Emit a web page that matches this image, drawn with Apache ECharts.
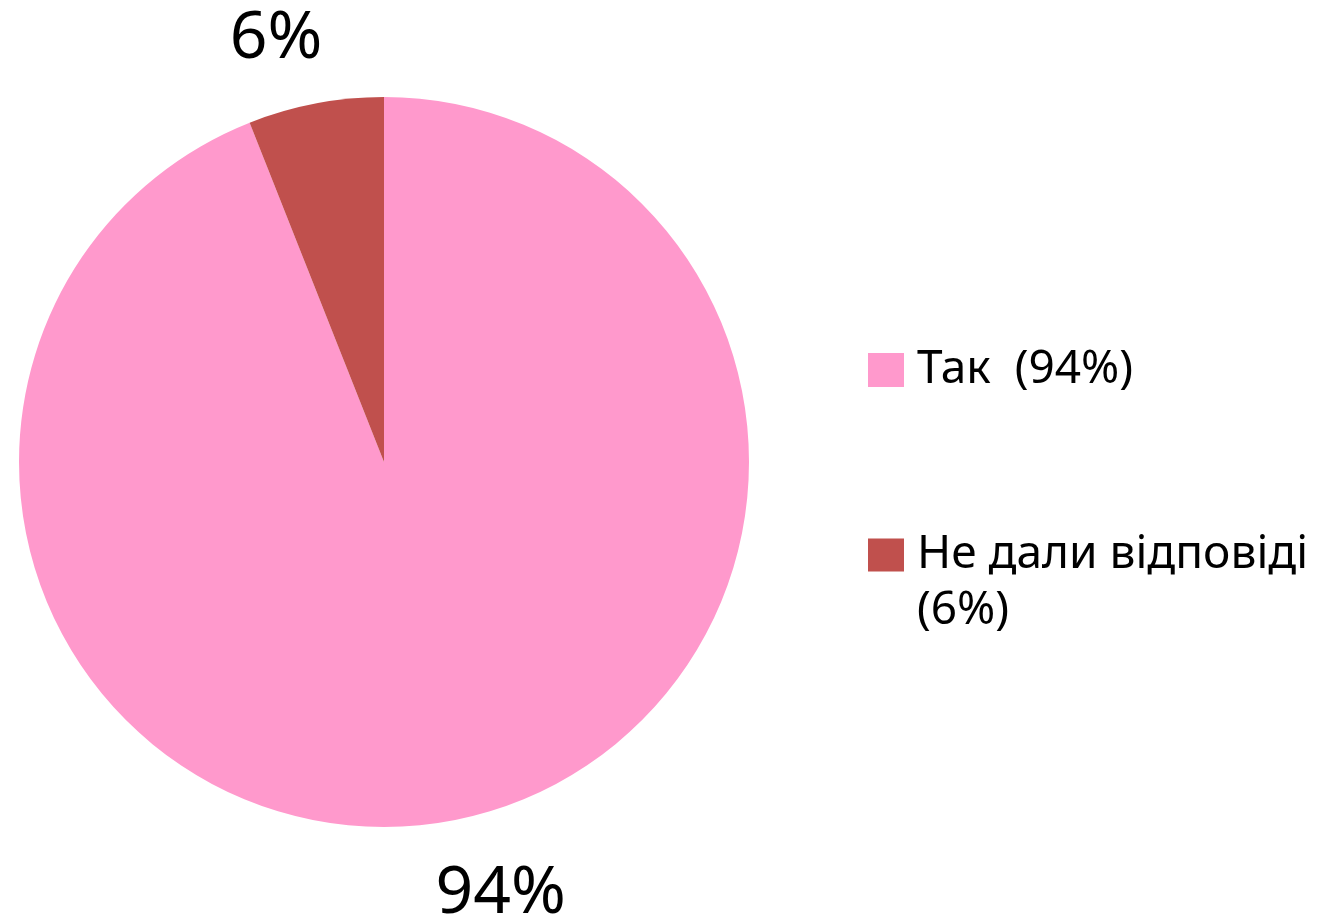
<!DOCTYPE html>
<html>
<head>
<meta charset="utf-8">
<script src="https://cdn.jsdelivr.net/npm/echarts@6/dist/echarts.min.js"></script>
<style>
  html, body { margin: 0; padding: 0; background: #fff; }
  #chart { width: 1320px; height: 918px; }
</style>
</head>
<body>
<div id="chart"></div>
<script>
// data
const names = ['Так', 'Не дали відповіді'];
const values = [94, 6];
const colors = ['#FF99CC', '#C0504D'];

const font = 'Noto Sans';

function legendText(name) {
  const i = names.indexOf(name);
  // second entry wraps; blank first line keeps the square level with the first text line
  if (i === 1) return '\n' + name + '\n(' + values[i] + '%)';
  return name + '  (' + values[i] + '%)';
}

const legendStyle = { fontFamily: font, fontSize: 46, lineHeight: 56, color: '#000', padding: [0, 0, 0, 8] };

const chart = echarts.init(document.getElementById('chart'));

chart.setOption({
  animation: false,
  color: colors,
  legend: [
    {
      orient: 'vertical',
      left: 863,
      top: 337,
      data: [names[0]],
      icon: 'rect',
      itemWidth: 36,
      itemHeight: 34,
      formatter: legendText,
      textStyle: legendStyle
    },
    {
      orient: 'vertical',
      left: 863,
      top: 466,
      data: [names[1]],
      icon: 'rect',
      itemWidth: 36,
      itemHeight: 33,
      formatter: legendText,
      textStyle: legendStyle
    }
  ],
  series: [
    {
      type: 'pie',
      center: [384, 462],
      radius: 365,
      startAngle: 90,
      clockwise: true,
      avoidLabelOverlap: false,
      itemStyle: { borderWidth: 0 },
      label: {
        show: true,
        position: 'outside',
        formatter: '{c}%',
        fontFamily: font,
        fontSize: 66,
        color: '#000'
      },
      labelLine: { show: false, length: 65, length2: 0 },
      labelLayout: function (p) {
        // nudge labels toward the spot the original uses
        return p.align === 'right' ? { dx: 24, dy: 0 } : { dx: -34, dy: 10 };
      },
      data: names.map((n, i) => ({ name: n, value: values[i] }))
    }
  ]
});
</script>
</body>
</html>
